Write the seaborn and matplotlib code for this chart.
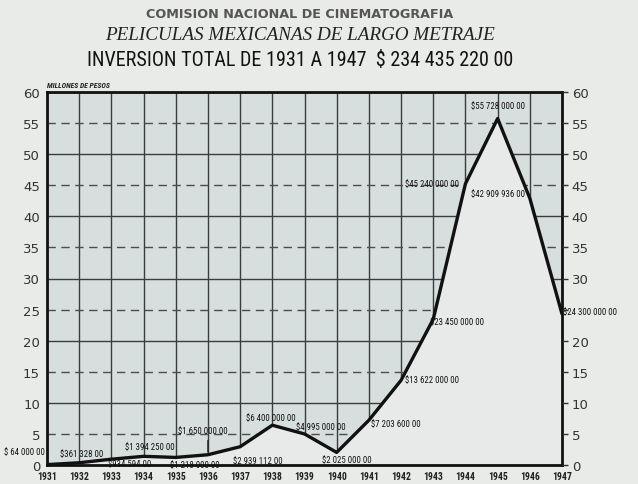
import matplotlib
matplotlib.use("Agg")
import matplotlib.pyplot as plt
from matplotlib import font_manager as fm
import seaborn as sns
import pandas as pd

years = [1931, 1932, 1933, 1934, 1935, 1936, 1937, 1938, 1939,
         1940, 1941, 1942, 1943, 1944, 1945, 1946, 1947]
# millones de pesos
inversion = [0.064, 0.361328, 0.934594, 1.39425, 1.218, 1.65, 2.939112, 6.4, 4.995,
             2.025, 7.2036, 13.622, 23.45, 45.24, 55.728, 42.909936, 24.3]
etiquetas = ["$ 64 000 00", "$361 328 00", "$934 594 00", "$1 394 250 00",
             "$1 218 000 00", "$1 650 000 00", "$2 939 112 00", "$6 400 000 00",
             "$4 995 000 00", "$2 025 000 00", "$7 203 600 00", "$13 622 000 00",
             "$23 450 000 00", "$45 240 000 00", "$55 728 000 00", "$42 909 936 00",
             "$24 300 000 00"]
y_ticks = list(range(0, 61, 5))

df = pd.DataFrame({"year": years, "inv": inversion})

sns.set_style("white")

# pick a condensed family if one is installed
narrow = "DejaVu Sans"
for cand in ["Liberation Sans Narrow", "DejaVu Sans Condensed", "Roboto Condensed"]:
    try:
        fm.findfont(fm.FontProperties(family=cand), fallback_to_default=False)
        narrow = cand
        break
    except ValueError:
        pass

fig = plt.figure(figsize=(6.38, 4.85), dpi=100)
fig.patch.set_facecolor("#e9ebe8")
ax = fig.add_axes([47 / 638, 19 / 485, 515 / 638, 373 / 485])
ax.set_facecolor("#d7dede")

# grid
for yr in years:
    ax.axvline(yr, color="#3a3d3f", lw=1.0, zorder=1)
for v in y_ticks:
    if v % 10 == 0:
        ax.axhline(v, color="#3a3d3f", lw=1.0, zorder=1)
    else:
        ax.axhline(v, color="#4a4d4f", lw=1.0, ls=(0, (6, 4)), zorder=1)

# area under the curve covers the grid
ax.fill_between(df["year"], 0, df["inv"], color="#e8eae9", zorder=2)
sns.lineplot(data=df, x="year", y="inv", color="#111111", lw=2.4, ax=ax, zorder=3)

ax.set_xlim(1931, 1947)
ax.set_ylim(0, 60)
ax.set_xlabel("")
ax.set_ylabel("")
for s in ax.spines.values():
    s.set_color("#111111")
    s.set_linewidth(2)

ax.set_yticks(y_ticks)
ax.set_yticklabels([str(v) for v in y_ticks], fontsize=9.5, color="#333333")
ax.tick_params(axis="y", left=False, length=0, pad=5)

# right axis: same scale, the 25 is hidden by the 1947 value label
ax2 = ax.twinx()
ax2.set_ylim(0, 60)
ax2.set_yticks(y_ticks)
ax2.set_yticklabels(["" if v == 25 else str(v) for v in y_ticks],
                    fontsize=9.5, color="#333333")
ax2.tick_params(axis="y", length=4, width=1, color="#333333", pad=3)
for s in ax2.spines.values():
    s.set_visible(False)

ax.set_xticks(years)
ax.set_xticklabels([str(y) for y in years], fontsize=7, fontweight="bold",
                   family=narrow, color="#222222")
ax.tick_params(axis="x", length=0, pad=4)

# value labels: (dx, dy, ha) in pixels from each point
offsets = {
    1931: (-2, 13, "right"), 1932: (-19, 9, "left"), 1933: (-3, -4, "left"),
    1934: (-19, 10, "left"), 1935: (-6, -7, "left"), 1936: (-30, 24, "left"),
    1937: (-7, -14, "left"), 1938: (-26, 8, "left"), 1939: (-9, 7, "left"),
    1940: (-15, -7, "left"), 1941: (2, -3, "left"), 1942: (4, 1, "left"),
    1943: (-3, -2, "left"), 1944: (-6, 0, "right"), 1945: (0, 13, "center"),
    1946: (-5, 5, "right"), 1947: (1, 2, "left"),
}
for yr, val, lab in zip(years, inversion, etiquetas):
    dx, dy, ha = offsets[yr]
    ax.annotate(lab, (yr, val), xytext=(dx, dy), textcoords="offset pixels",
                ha=ha, va="center", fontsize=6.3, family=narrow, color="#111111",
                zorder=5, annotation_clip=False)

# small leader under the 1936 label
ax.annotate("", (1936, inversion[5]), xytext=(0, 17), textcoords="offset pixels",
            arrowprops=dict(arrowstyle="-", color="#222222", lw=1), zorder=5)

cx = 300 / 638
fig.text(47 / 638, 1 - 88 / 485, "MILLONES DE PESOS", fontsize=5.5, style="italic",
         fontweight="bold", family=narrow, color="#222222")
fig.text(cx, 1 - 15 / 485, "COMISION NACIONAL DE CINEMATOGRAFIA", ha="center",
         va="center", fontsize=9.2, fontweight="bold", color="#555555")
fig.text(cx, 1 - 36 / 485, "PELICULAS MEXICANAS DE LARGO METRAJE", ha="center",
         va="center", fontsize=13.8, style="italic", family="Liberation Serif",
         color="#222222")
fig.text(cx, 1 - 60 / 485, "INVERSION TOTAL DE 1931 A 1947  $ 234 435 220 00",
         ha="center", va="center", fontsize=14.5, family=narrow, color="#111111")

fig.savefig("out.png", dpi=100, facecolor=fig.get_facecolor())
